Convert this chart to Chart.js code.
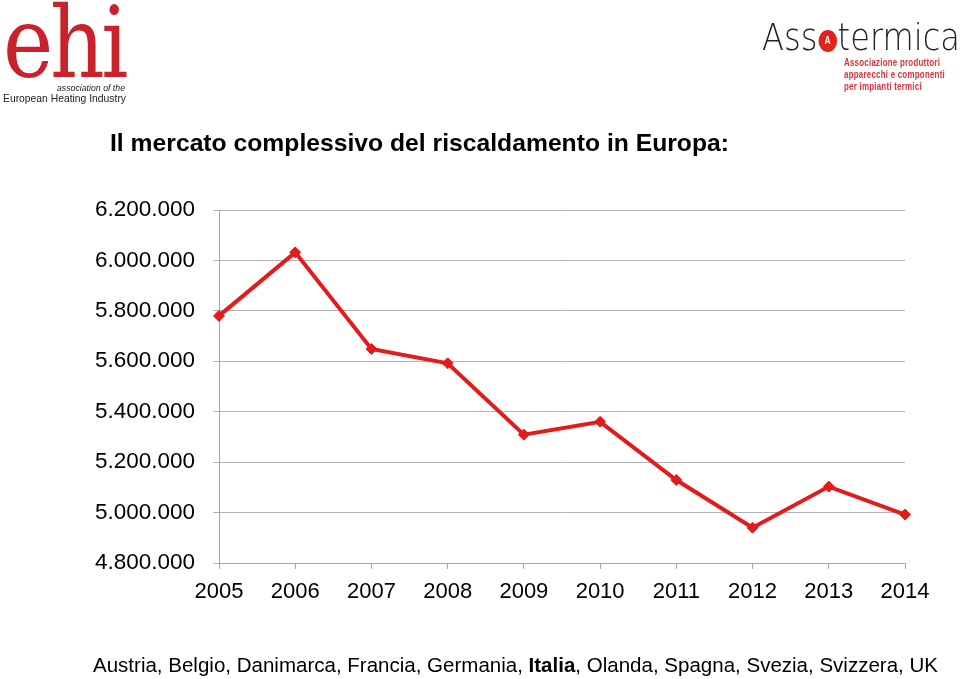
<!DOCTYPE html>
<html><head><meta charset="utf-8">
<script src="https://cdn.jsdelivr.net/npm/chart.js@4/dist/chart.umd.min.js"></script>
<style>
html,body{margin:0;padding:0;background:#fff;width:960px;height:679px;overflow:hidden;font-family:"Liberation Sans",Arial,sans-serif;}
#wrap{position:absolute;left:0;top:0;width:960px;height:679px;}
canvas{position:absolute;left:0;top:0;}
.abs{position:absolute;white-space:nowrap;display:inline-block;transform-origin:0 0;}
.icon{display:inline-block;width:22px;height:22px;border-radius:50%;background:#e2231a;color:#fff;font-size:10px;font-weight:bold;text-align:center;line-height:22px;vertical-align:6px;margin:0 1px;font-family:"Liberation Sans",Arial,sans-serif;}
</style></head><body>
<div id="wrap"><canvas id="c" width="960" height="679"></canvas></div>

<!-- ehi logo -->
<div class="abs fit" data-w="122" style="left:3px;top:-7px;font-family:'DejaVu Serif',serif;font-size:100px;color:#c9222b;letter-spacing:-4px;line-height:1;">ehi</div>
<div class="abs fit" data-w="68" style="left:57px;top:83px;font-size:9px;font-style:italic;color:#222;">association of the</div>
<div class="abs fit" data-w="123" style="left:3px;top:92px;font-size:11px;color:#222;">European Heating Industry</div>

<!-- Assotermica logo -->
<div class="abs fit" data-w="198" style="left:762px;top:18px;font-family:'DejaVu Sans',sans-serif;font-weight:200;font-size:38px;color:#222;line-height:1;">Ass<span class="icon">A</span>termica</div>
<div class="abs fit" data-w="101" style="left:844px;top:57px;font-size:10px;font-weight:bold;color:#d8313b;line-height:12px;letter-spacing:0.3px;">Associazione produttori<br>apparecchi e componenti<br>per impianti termici</div>

<div class="abs fit" data-w="619" style="left:110px;top:129px;font-size:24.5px;font-weight:bold;color:#000;">Il mercato complessivo del riscaldamento in Europa:</div>

<div class="abs fit" data-w="845" style="left:93px;top:653px;font-size:20.5px;color:#000;">Austria, Belgio, Danimarca, Francia, Germania, <b>Italia</b>, Olanda, Spagna, Svezia, Svizzera, UK</div>

<script>
document.querySelectorAll('.fit').forEach(el => {
  const w = el.getBoundingClientRect().width;
  const t = parseFloat(el.dataset.w);
  if (w > 0) el.style.transform = 'scaleX(' + (t / w) + ')';
});

const years = ["2005","2006","2007","2008","2009","2010","2011","2012","2013","2014"];
const market = [5780000, 6032000, 5649000, 5592000, 5309000, 5360000, 5129000, 4940000, 5103000, 4992000];
const yMin = 4800000, yMax = 6200000, yStep = 200000;

function fmt(v){ return String(Math.round(v)).replace(/\B(?=(\d{3})+(?!\d))/g, "."); }

new Chart(document.getElementById('c'), {
  type: 'line',
  data: { labels: years, datasets: [{
    data: market,
    borderColor: '#e31b1b',
    backgroundColor: '#e31b1b',
    borderWidth: 4,
    tension: 0,
    pointStyle: 'rectRot',
    pointRadius: 5.5,
    pointBorderWidth: 1,
    pointBorderColor: '#e31b1b',
    pointBackgroundColor: '#e31b1b'
  }]},
  options: {
    responsive: false,
    animation: false,
    layout: { padding: { top: 210, right: 55, bottom: 0, left: 0 } },
    plugins: { legend: { display: false }, tooltip: { enabled: false } },
    scales: {
      x: {
        offset: false,
        grid: { display: true, drawOnChartArea: false, drawTicks: true, tickLength: 6, color: '#a6a6a6' },
        border: { display: true, color: '#a6a6a6', width: 1 },
        ticks: { color: '#000', font: { family: "'Liberation Sans', Arial, sans-serif", size: 22 }, padding: 10, maxRotation: 0 },
        afterFit(s){ s.height = 116; }
      },
      y: {
        min: yMin, max: yMax,
        grid: { color: '#b3b3b3', tickLength: 6, lineWidth: 1 },
        border: { display: true, color: '#a6a6a6', width: 1 },
        ticks: { stepSize: yStep, color: '#000', font: { family: "'Liberation Sans', Arial, sans-serif", size: 22.5 }, padding: 18, callback: v => fmt(v) },
        afterFit(s){ s.width = 219; }
      }
    }
  }
});
</script>
</body></html>
